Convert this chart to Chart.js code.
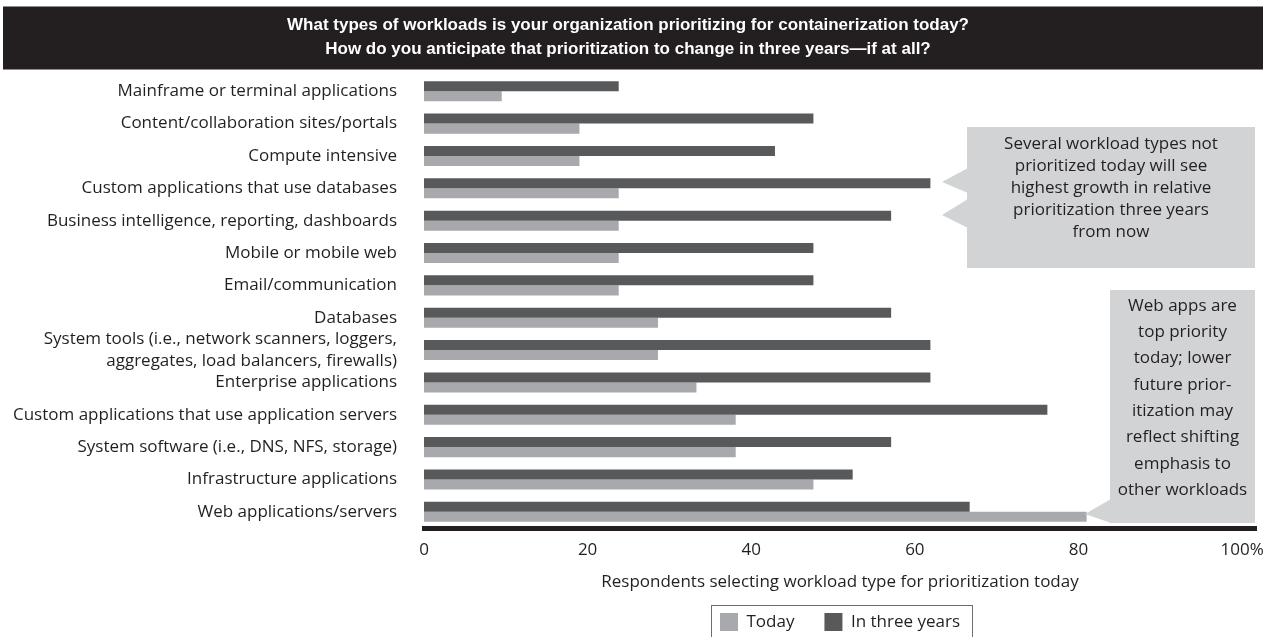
<!DOCTYPE html>
<html>
<head>
<meta charset="utf-8">
<title>Workloads prioritized for containerization</title>
<script src="https://cdn.jsdelivr.net/npm/chart.js@4.4.1/dist/chart.umd.min.js"></script>
<style>
  html, body { margin: 0; padding: 0; background: #fff; }
  #wrap { width: 1266px; height: 637px; }
</style>
</head>
<body>
<div id="wrap"><canvas id="workloadChart" width="1266" height="637"></canvas></div>
<script>
/* global Chart */

var categories = [
    "Mainframe or terminal applications",
    "Content/collaboration sites/portals",
    "Compute intensive",
    "Custom applications that use databases",
    "Business intelligence, reporting, dashboards",
    "Mobile or mobile web",
    "Email/communication",
    "Databases",
    ["System tools (i.e., network scanners, loggers,", "aggregates, load balancers, firewalls)"],
    "Enterprise applications",
    "Custom applications that use application servers",
    "System software (i.e., DNS, NFS, storage)",
    "Infrastructure applications",
    "Web applications/servers"
];

// % of respondents
var today = [9.5, 19, 19, 23.8, 23.8, 23.8, 23.8, 28.6, 28.6, 33.3, 38.1, 38.1, 47.6, 81];
var inThreeYears = [23.8, 47.6, 42.9, 61.9, 57.1, 47.6, 47.6, 57.1, 61.9, 61.9, 76.2, 57.1, 52.4, 66.7];

var xTickValues = [0, 20, 40, 60, 80, 100];

var titleLines = [
    "What types of workloads is your organization prioritizing for containerization today?",
    "How do you anticipate that prioritization to change in three years\u2014if at all?"
];
var axisTitle = "Respondents selecting workload type for prioritization today";

var growthNote = [
    "Several workload types not",
    "prioritized today will see",
    "highest growth in relative",
    "prioritization three years",
    "from now"
];
var webAppsNote = [
    "Web apps are",
    "top priority",
    "today; lower",
    "future prior-",
    "itization may",
    "reflect shifting",
    "emphasis to",
    "other workloads"
];

var INK = "#231f20";
var DARK_BAR = "#58595b";
var LIGHT_BAR = "#a7a9ac";
var NOTE_GRAY = "#d1d3d4";
var BODY_FONT = "'Open Sans', 'Liberation Sans', sans-serif";

// black band behind the two-line title
var titleBand = {
    id: "titleBand",
    beforeDraw: function(chart) {
        var ctx = chart.ctx;
        ctx.save();
        ctx.fillStyle = INK;
        ctx.fillRect(3, 7, chart.width - 6, 62);
        ctx.fillStyle = "#8d8d8f";
        ctx.fillRect(3, 6, chart.width - 6, 1);
        ctx.fillRect(3, 69, chart.width - 6, 1);
        ctx.restore();
    }
};

// frame round the legend items
var legendFrame = {
    id: "legendFrame",
    afterDraw: function(chart) {
        var boxes = chart.legend && chart.legend.legendHitBoxes;
        if (!boxes || !boxes.length) return;
        var left = Infinity, right = -Infinity, top = Infinity;
        boxes.forEach(function(b) {
            left = Math.min(left, b.left);
            right = Math.max(right, b.left + b.width);
            top = Math.min(top, b.top);
        });
        var ctx = chart.ctx;
        ctx.save();
        ctx.strokeStyle = "#6d6e71";
        ctx.lineWidth = 1;
        ctx.strokeRect(Math.round(left - 9) + 0.5, Math.round(top - 8) + 0.5,
            Math.round(right - left + 21), chart.height);
        ctx.restore();
    }
};

function drawNote(ctx, box, pointers, lines, firstLine, lineGap) {
    ctx.fillStyle = NOTE_GRAY;
    ctx.fillRect(box.x, box.y, box.w, box.h);
    pointers.forEach(function(p) {
        ctx.beginPath();
        ctx.moveTo(box.x + 1, p.from);
        ctx.lineTo(p.tipX, p.tipY);
        ctx.lineTo(box.x + 1, p.to);
        ctx.closePath();
        ctx.fill();
    });
    ctx.fillStyle = INK;
    ctx.font = "17px " + BODY_FONT;
    ctx.textAlign = "center";
    ctx.textBaseline = "middle";
    lines.forEach(function(line, i) {
        ctx.fillText(line, box.x + box.w / 2, firstLine + i * lineGap);
    });
}

// the two grey call-outs on the right
var notes = {
    id: "notes",
    afterDraw: function(chart) {
        var ctx = chart.ctx;
        ctx.save();
        drawNote(ctx, {x: 967, y: 127, w: 288, h: 141},
            [{from: 168, to: 193, tipX: 942, tipY: 182},
             {from: 199, to: 228, tipX: 942, tipY: 215}],
            growthNote, 144.5, 21.9);
        drawNote(ctx, {x: 1110, y: 290, w: 145, h: 233},
            [{from: 499, to: 523, tipX: 1085, tipY: 514}],
            webAppsNote, 306, 26.3);
        ctx.restore();
    }
};

var ctx = document.getElementById("workloadChart");

var workloadChart = new Chart(ctx, {
    type: "bar",
    data: {
        labels: categories,
        datasets: [{
            label: "In three years",
            data: inThreeYears,
            backgroundColor: DARK_BAR,
            borderWidth: 0,
            categoryPercentage: 0.62,
            barPercentage: 1
        }, {
            label: "Today",
            data: today,
            backgroundColor: LIGHT_BAR,
            borderWidth: 0,
            categoryPercentage: 0.62,
            barPercentage: 1
        }]
    },
    options: {
        indexAxis: "y",
        responsive: false,
        animation: false,
        devicePixelRatio: 1,
        layout: {
            padding: {top: 1, left: 0, right: 10, bottom: -4}
        },
        scales: {
            x: {
                type: "linear",
                min: 0,
                max: 101.7,
                afterBuildTicks: function(scale) {
                    scale.ticks = xTickValues.map(function(v) { return {value: v}; });
                },
                afterFit: function(scale) {
                    scale.height = 55;
                    // the "100%" label may hang past the axis end
                    scale.paddingLeft = 0;
                    scale.paddingRight = 0;
                },
                grid: {display: false, drawTicks: false},
                border: {display: true, color: INK, width: 5},
                ticks: {
                    color: INK,
                    padding: 12,
                    font: {family: BODY_FONT, size: 17},
                    callback: function(v) { return v === 100 ? "100%" : v; }
                },
                title: {
                    display: true,
                    text: axisTitle,
                    color: INK,
                    font: {family: BODY_FONT, size: 17},
                    padding: {top: 0, bottom: -9}
                }
            },
            y: {
                afterFit: function(scale) {
                    scale.width = 424;
                },
                grid: {display: false, drawTicks: false},
                border: {display: false},
                ticks: {
                    color: INK,
                    padding: 27,
                    autoSkip: false,
                    font: {family: BODY_FONT, size: 17, lineHeight: 1.25}
                }
            }
        },
        plugins: {
            title: {
                display: true,
                text: titleLines,
                color: "#ffffff",
                font: {family: "'Liberation Sans', Arial, sans-serif", size: 17, weight: "bold", lineHeight: 1.37},
                padding: {top: 13, bottom: 14.5}
            },
            legend: {
                position: "bottom",
                fullSize: false,
                reverse: true,
                labels: {
                    color: INK,
                    boxWidth: 18,
                    boxHeight: 18,
                    padding: 30,
                    font: {family: BODY_FONT, size: 17}
                }
            },
            tooltip: {enabled: false}
        }
    },
    plugins: [titleBand, legendFrame, notes]
});
</script>
</body>
</html>
